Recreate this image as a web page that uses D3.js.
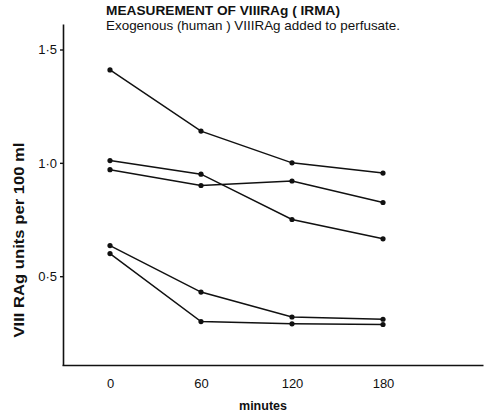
<!DOCTYPE html>
<html>
<head>
<meta charset="utf-8">
<script src="https://cdn.jsdelivr.net/npm/d3@7"></script>
<style>
  body { margin: 0; background: #fff; }
  svg { display: block; font-family: "Liberation Sans", Arial, sans-serif; }
</style>
</head>
<body>
<div id="chart"></div>
<script>
// minutes after adding exogenous VIIIRAg
const minutes = [0, 60, 120, 180];
const xTicks = [0, 60, 120, 180];
const yTicks = [0.5, 1.0, 1.5];

// one array per perfusion experiment (units per 100 ml)
const expA = [1.41, 1.14, 1.00, 0.955];
const expB = [1.01, 0.95, 0.75, 0.665];
const expC = [0.97, 0.90, 0.92, 0.825];
const expD = [0.635, 0.43, 0.32, 0.31];
const expE = [0.60, 0.30, 0.29, 0.287];

const series = [expA, expB, expC, expD, expE];

const width = 495, height = 417;

const svg = d3.select('#chart').append('svg')
    .attr('width', width)
    .attr('height', height);

// scales
const x = d3.scaleLinear().domain([0, 180]).range([110, 383]);
const y = d3.scaleLinear().domain([0.5, 1.5]).range([276.2, 49.5]);

// axis extents reach past the data like the original drawing
const xAxisScale = x.copy().domain([x.invert(62), x.invert(483)]).range([62, 483]);
const yAxisScale = y.copy().domain([y.invert(365), y.invert(24)]).range([365, 24]);

const fmt = d => d3.format('.1f')(d).replace('.', '\u00b7');

// x axis
const gx = svg.append('g')
    .attr('transform', 'translate(0,365)')
    .call(d3.axisBottom(xAxisScale).tickValues(xTicks).tickSize(0).tickSizeOuter(0).tickPadding(14));
gx.select('.domain').attr('stroke', '#111').attr('stroke-width', 1.6);
gx.selectAll('text')
    .attr('font-size', 13)
    .attr('fill', '#111');

// y axis
const gy = svg.append('g')
    .attr('transform', 'translate(63,0)')
    .call(d3.axisLeft(yAxisScale).tickValues(yTicks).tickFormat(fmt).tickSize(3).tickSizeOuter(0).tickPadding(3));
gy.select('.domain').attr('stroke', '#111').attr('stroke-width', 1.6);
gy.selectAll('.tick line').attr('stroke', '#111').attr('stroke-width', 1.4);
gy.selectAll('text')
    .attr('font-size', 13)
    .attr('fill', '#111');

// lines and points
const line = d3.line()
    .x((d, i) => x(minutes[i]))
    .y(d => y(d));

const groups = svg.append('g').selectAll('g.exp')
    .data(series)
    .join('g')
    .classed('exp', true);

groups.append('path')
    .attr('d', d => line(d))
    .attr('fill', 'none')
    .attr('stroke', '#111')
    .attr('stroke-width', 1.5);

groups.selectAll('circle')
    .data(d => d)
    .join('circle')
    .attr('cx', (d, i) => x(minutes[i]))
    .attr('cy', d => y(d))
    .attr('r', 2.6)
    .attr('fill', '#111');

// titles
svg.append('text')
    .attr('x', 106).attr('y', 15)
    .attr('font-size', 13.5)
    .attr('font-weight', 'bold')
    .attr('fill', '#111')
    .attr('textLength', 234)
    .attr('lengthAdjust', 'spacingAndGlyphs')
    .text('MEASUREMENT OF  VIIIRAg  ( IRMA)');

svg.append('text')
    .attr('x', 106).attr('y', 30)
    .attr('font-size', 12.8)
    .attr('fill', '#111')
    .attr('textLength', 294)
    .attr('lengthAdjust', 'spacingAndGlyphs')
    .text('Exogenous (human ) VIIIRAg added to perfusate.');

// axis titles
svg.append('text')
    .attr('x', 263).attr('y', 410)
    .attr('text-anchor', 'middle')
    .attr('font-size', 12.5)
    .attr('font-weight', 'bold')
    .attr('fill', '#111')
    .text('minutes');

svg.append('text')
    .attr('transform', 'translate(24,240) rotate(-90)')
    .attr('text-anchor', 'middle')
    .attr('font-size', 14)
    .attr('font-weight', 'bold')
    .attr('fill', '#111')
    .attr('textLength', 195)
    .attr('lengthAdjust', 'spacingAndGlyphs')
    .text('VIII RAg  units per 100 ml');
</script>
</body>
</html>
